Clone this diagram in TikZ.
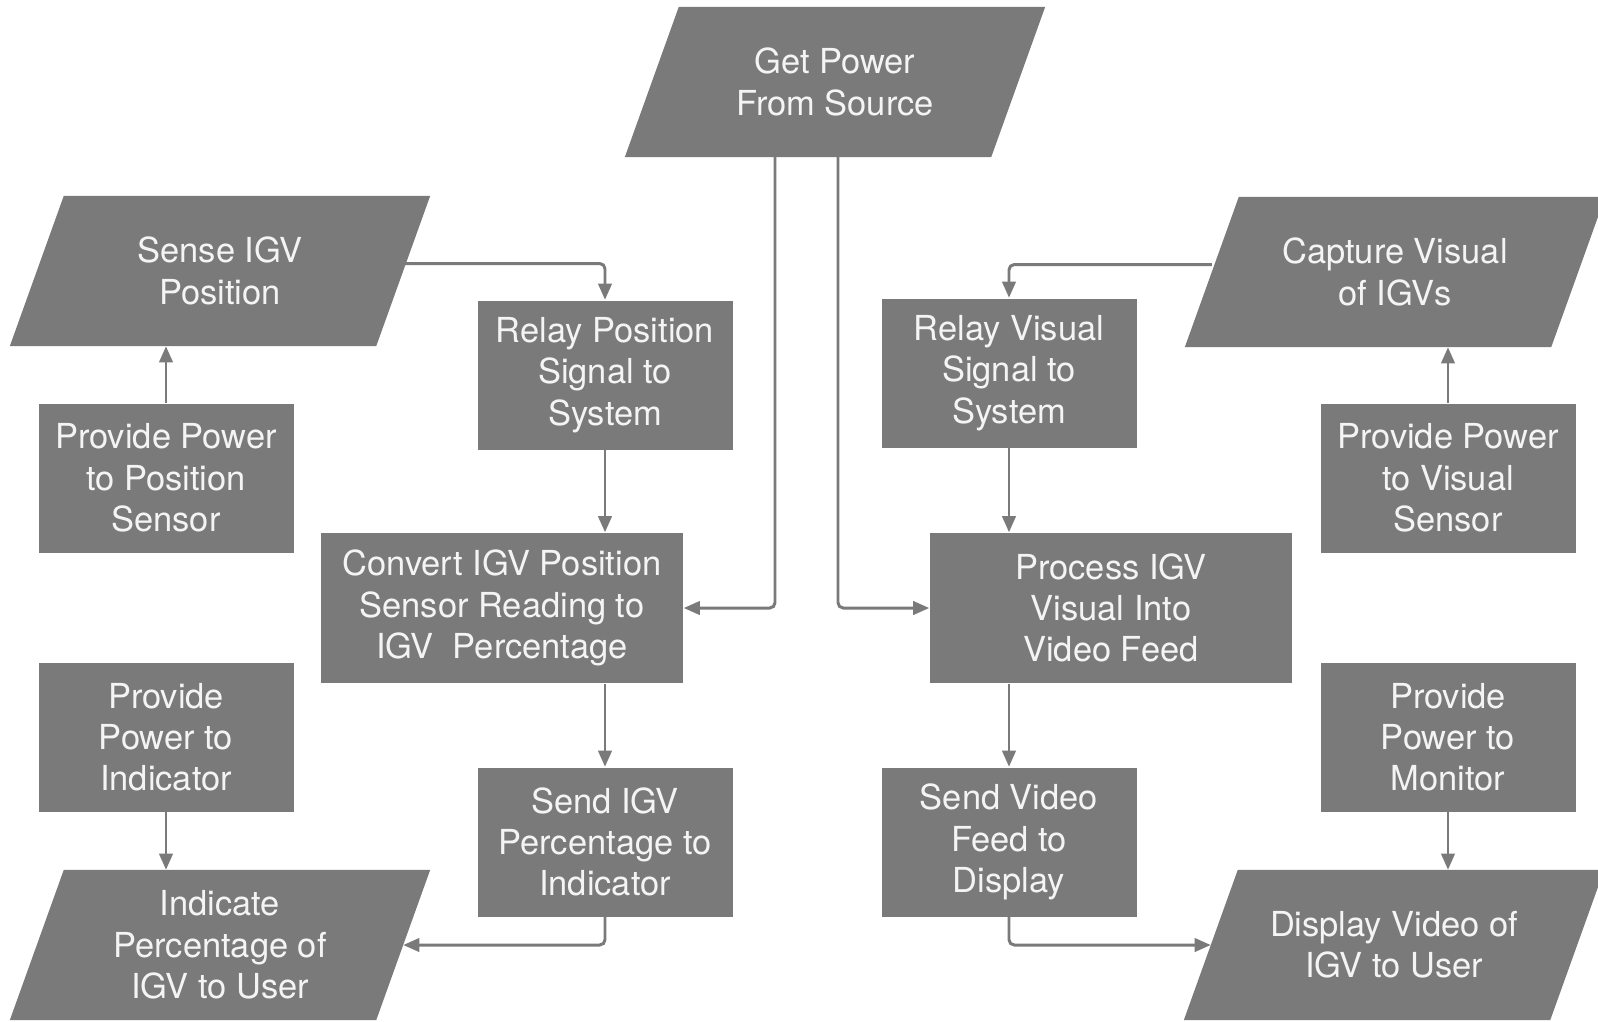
\documentclass[tikz,border=0pt]{standalone}
\usepackage{fontspec}
\setmainfont{TeX Gyre Heros}
\usetikzlibrary{arrows.meta}

\definecolor{boxgray}{HTML}{7A7A7A}
\definecolor{txtgray}{HTML}{F4F4F4}

\pgfdeclarelayer{bg}
\pgfsetlayers{bg,main}

\tikzset{
  base/.style={text=txtgray, align=center, inner sep=0pt,
    font=\fontsize{9.8}{11.75}\selectfont},
  proc/.style={base, fill=boxgray, minimum width=2.55cm, minimum height=1.49cm},
  wideproc/.style={proc, minimum width=3.62cm, minimum height=1.5cm},
  io/.style={base, minimum width=3.65cm, minimum height=1.49cm},
  flow/.style={draw=boxgray, line width=0.85pt, rounded corners=1.5pt}
}

\begin{document}
\begin{tikzpicture}[>={Triangle[length=4.6pt,width=3.8pt]}]

\useasboundingbox (0,0) rectangle (15.98,-10.21);

% ==== INPUT / OUTPUT ====
\node[io] (power)    at (8.35,-0.82)  {Get Power\\From Source};
\node[io] (sense)    at (2.20,-2.71)  {Sense IGV\\Position};
\node[io] (capture)  at (13.95,-2.72) {Capture Visual\\of IGVs};
\node[io] (indicate) at (2.20,-9.45)  {Indicate\\Percentage of\\IGV to User};
\node[io] (display)  at (13.94,-9.45) {Display Video of\\IGV to User};

% slanted boxes behind the text
\begin{pgfonlayer}{bg}
\foreach \n in {power,sense,capture,indicate,display}{
    \fill[boxgray] ([xshift=-0.27cm]\n.south west) -- ([xshift=-0.27cm]\n.south east)
        -- ([xshift=0.27cm]\n.north east) -- ([xshift=0.27cm]\n.north west) -- cycle;
}
\end{pgfonlayer}

% ==== POSITION BRANCH ====
\node[proc]     (relpos)  at (6.05,-3.75) {Relay Position\\Signal to\\System};
\node[proc]     (pwrpos)  at (1.66,-4.78) {Provide Power\\to Position\\Sensor};
\node[wideproc] (convert) at (5.02,-6.08) {Convert IGV Position\\Sensor Reading to\\IGV\ \ Percentage};
\node[proc]     (pwrind)  at (1.66,-7.37) {Provide\\Power to\\Indicator};
\node[proc]     (sendpct) at (6.05,-8.42) {Send IGV\\Percentage to\\Indicator};

% ==== VISUAL BRANCH ====
\node[proc]     (relvis)  at (10.09,-3.73) {Relay Visual\\Signal to\\System};
\node[wideproc] (process) at (11.11,-6.08) {Process IGV\\Visual Into\\Video Feed};
\node[proc]     (pwrvis)  at (14.48,-4.78) {Provide Power\\to Visual\\Sensor};
\node[proc]     (pwrmon)  at (14.48,-7.37) {Provide\\Power to\\Monitor};
\node[proc]     (sendvid) at (10.09,-8.42) {Send Video\\Feed to\\Display};

% ==== CONNECTORS ====
\draw[flow,->] ([xshift=-0.60cm]power.south) |- (convert.east);
\draw[flow,->] ([xshift=0.03cm]power.south) |- (process.west);

\draw[flow,->] ([yshift=0.075cm]sense.east) -| (relpos.north);
\draw[flow,->] (relpos) -- (convert.north -| relpos);
\draw[flow,->] (convert.south -| sendpct) -- (sendpct.north);
\draw[flow,->] (sendpct.south) |- (indicate.east);
\draw[flow,->] (pwrpos.north) -- (pwrpos.north |- sense.south);
\draw[flow,->] (pwrind.south) -- (pwrind.south |- indicate.north);

\draw[flow,->] ([yshift=0.075cm]capture.west) -| (relvis.north);
\draw[flow,->] (relvis.south) -- (relvis.south |- process.north);
\draw[flow,->] (process.south -| sendvid) -- (sendvid.north);
\draw[flow,->] (sendvid.south) |- (display.west);
\draw[flow,->] (pwrvis.north) -- (pwrvis.north |- capture.south);
\draw[flow,->] (pwrmon.south) -- (pwrmon.south |- display.north);

\end{tikzpicture}
\end{document}
